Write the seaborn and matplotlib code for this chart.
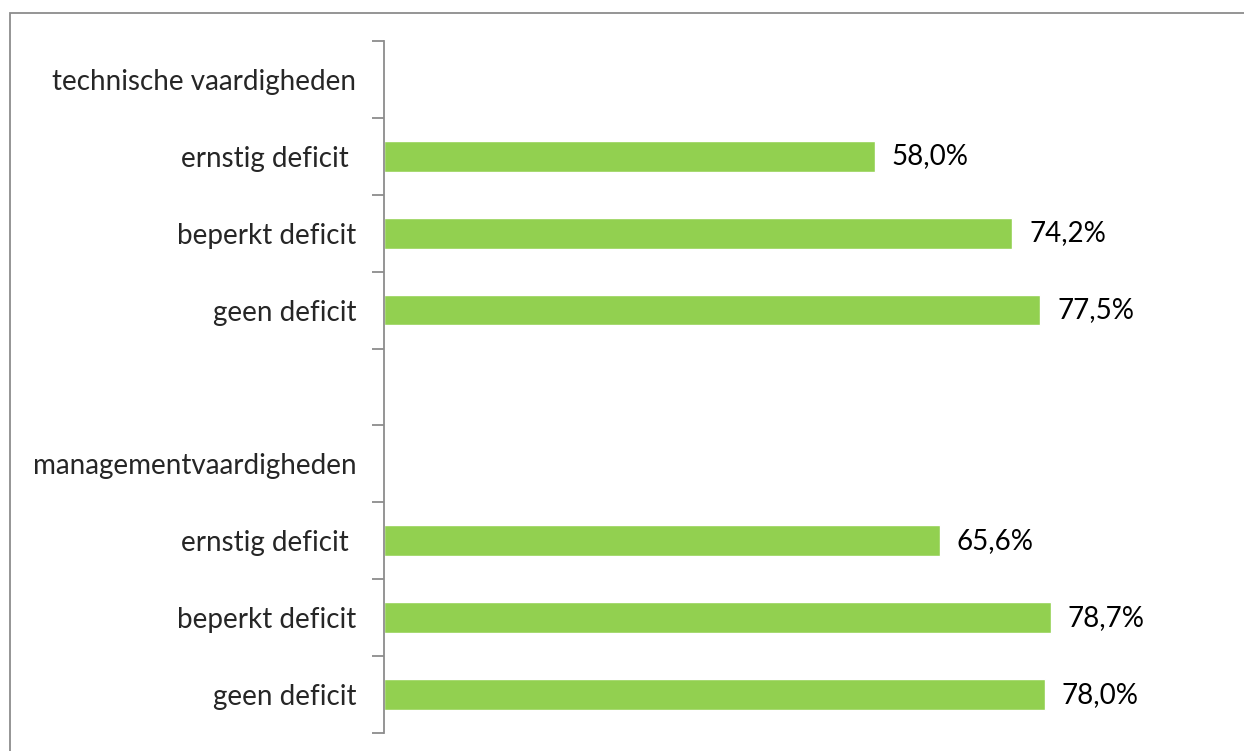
import matplotlib
matplotlib.use("Agg")
import matplotlib.pyplot as plt
import matplotlib.patches as mpatches
import numpy as np
import pandas as pd
import seaborn as sns

groups = ["technische vaardigheden", "managementvaardigheden"]
levels = ["ernstig deficit ", "beperkt deficit", "geen deficit"]
tech = [58.0, 74.2, 77.5]
mgmt = [65.6, 78.7, 78.0]

GREEN = "#92D050"
GRAY = "#8c8c8c"

sns.set_style("white")
plt.rcParams["font.family"] = ["Lato", "DejaVu Sans"]

# slot list top to bottom: group header, three levels, blank spacer, ...
slots, labels, values = [], [], []
for gi, (g, vals) in enumerate(zip(groups, [tech, mgmt])):
    if gi > 0:
        slots.append(f"s{len(slots)}"); labels.append(""); values.append(np.nan)
    slots.append(f"s{len(slots)}"); labels.append(g); values.append(np.nan)
    for lv, v in zip(levels, vals):
        slots.append(f"s{len(slots)}"); labels.append(lv); values.append(v)

df = pd.DataFrame({"slot": slots, "value": values})
bars = df.dropna()

fig = plt.figure(figsize=(12.44, 7.51), dpi=100)
ax = fig.add_axes([384 / 1244, 1 - 733 / 751, (1231 - 384) / 1244, (733 - 41) / 751])

sns.barplot(data=bars, x="value", y="slot", order=slots, orient="h",
            color=GREEN, saturation=1, width=0.4, ax=ax)

for c in ax.containers:
    ax.bar_label(c, labels=[f"{v:.1f}%".replace(".", ",") for v in bars["value"]],
                 padding=12, fontsize=20, color="black")

n = len(slots)
ax.set_xlim(0, 100)
ax.set_ylim(n - 0.5, -0.5)
ax.set_xticks([])
ax.set_yticks(np.arange(n + 1) - 0.5)
ax.set_yticklabels([])
ax.set_yticks(np.arange(n), minor=True)
ax.set_yticklabels(labels, minor=True, fontsize=20)
ax.tick_params(axis="y", which="major", direction="out", length=9, width=1.3,
               color=GRAY, left=True)
ax.tick_params(axis="y", which="minor", length=0, pad=20)
ax.set_xlabel("")
ax.set_ylabel("")
for s in ["top", "right", "bottom"]:
    ax.spines[s].set_visible(False)
ax.spines["left"].set_color(GRAY)
ax.spines["left"].set_linewidth(1.3)

# chart-area frame (cropped at right and bottom)
fig.patches.append(mpatches.Rectangle((10 / 1244, -0.1), 1.2, 1 - 13 / 751 + 0.1,
                                      transform=fig.transFigure, fill=False,
                                      edgecolor=GRAY, linewidth=1.3))

fig.savefig("out.png", dpi=100)
